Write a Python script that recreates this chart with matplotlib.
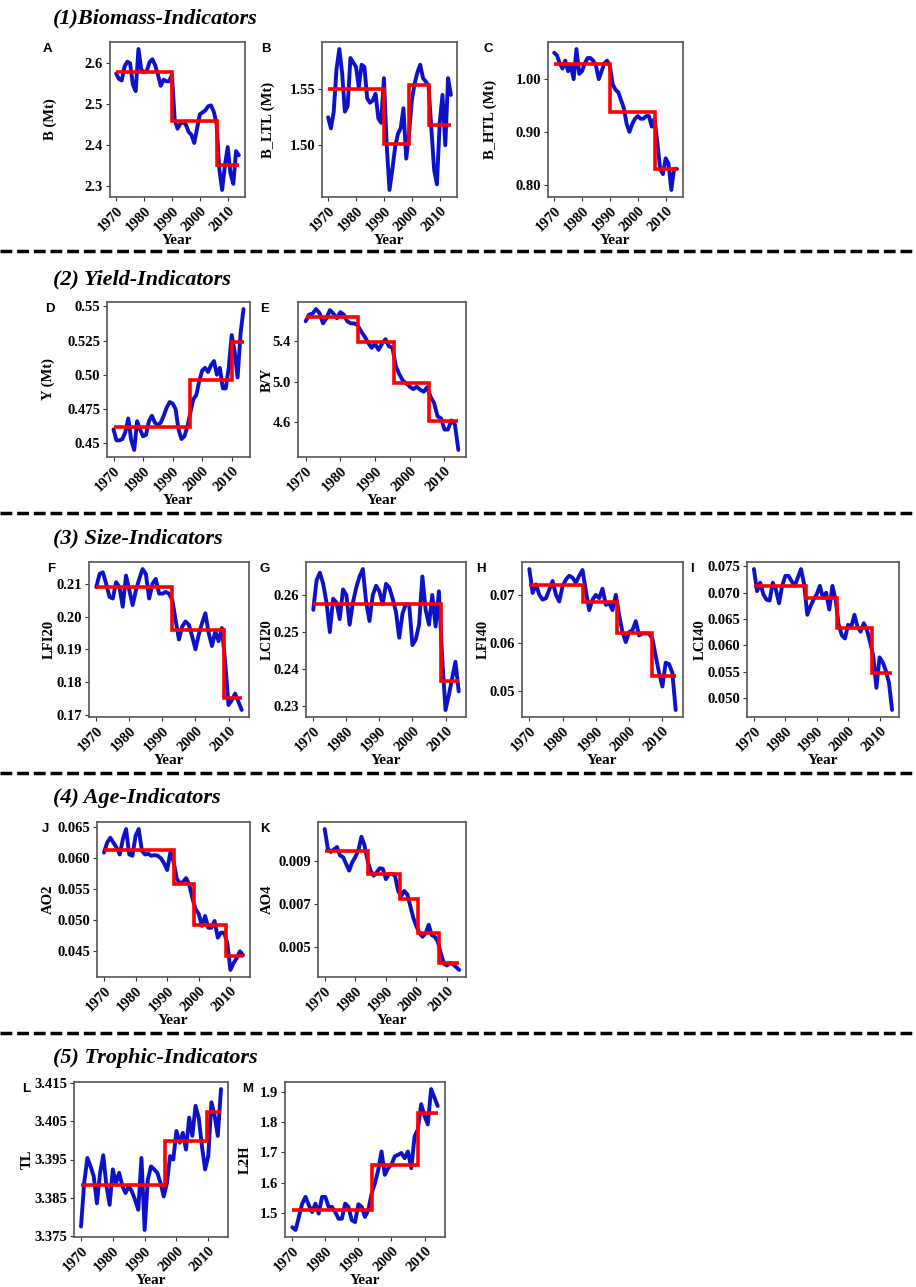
#!/usr/bin/env python3

import matplotlib
matplotlib.use("Agg")
from matplotlib import pyplot as plt
from matplotlib.lines import Line2D

# * Configuration

FIG_W, FIG_H = 916, 1287  # [px]
DPI = 100

BLUE = "#0d12c8"
RED = "#ff0000"
FRAME = "#555555"

plt.rcParams["font.family"] = ["Liberation Serif", "DejaVu Serif"]
plt.rcParams["font.weight"] = "bold"
plt.rcParams["axes.labelweight"] = "bold"

# * Data (1970..2014)

YEARS = list(range(1970, 2015))

B_TOTAL = [2.575, 2.562, 2.558, 2.592, 2.604, 2.600, 2.548, 2.532, 2.635, 2.585,
           2.578, 2.582, 2.603, 2.610, 2.595, 2.572, 2.545, 2.560, 2.556, 2.556,
           2.572, 2.462, 2.440, 2.452, 2.456, 2.450, 2.432, 2.425, 2.405, 2.440,
           2.475, 2.480, 2.485, 2.495, 2.497, 2.482, 2.452, 2.340, 2.290, 2.350,
           2.395, 2.330, 2.305, 2.385, 2.375]
B_TOTAL_BREAKS = [1970, 1990, 2006, 2014]
B_TOTAL_MEANS = [2.578, 2.460, 2.350]

B_LTL = [1.525, 1.515, 1.530, 1.568, 1.586, 1.565, 1.530, 1.535, 1.578, 1.574,
         1.570, 1.552, 1.572, 1.570, 1.542, 1.538, 1.540, 1.546, 1.524, 1.520,
         1.560, 1.500, 1.460, 1.478, 1.498, 1.510, 1.515, 1.533, 1.488, 1.510,
         1.540, 1.555, 1.565, 1.572, 1.560, 1.557, 1.553, 1.515, 1.478, 1.465,
         1.520, 1.545, 1.500, 1.560, 1.545]
B_LTL_BREAKS = [1970, 1990, 1999, 2006, 2014]
B_LTL_MEANS = [1.550, 1.501, 1.554, 1.518]

B_HTL = [1.050, 1.045, 1.030, 1.020, 1.035, 1.015, 1.025, 1.000, 1.057, 1.010,
         1.015, 1.030, 1.040, 1.040, 1.035, 1.025, 1.000, 1.015, 1.030, 1.035,
         1.025, 0.990, 0.980, 0.975, 0.960, 0.945, 0.915, 0.900, 0.915, 0.925,
         0.930, 0.925, 0.925, 0.930, 0.930, 0.910, 0.925, 0.880, 0.830, 0.820,
         0.850, 0.840, 0.790, 0.830, 0.830]
B_HTL_BREAKS = [1970, 1990, 2006, 2014]
B_HTL_MEANS = [1.028, 0.937, 0.830]

Y_TOTAL = [0.460, 0.452, 0.452, 0.453, 0.458, 0.468, 0.452, 0.445, 0.466, 0.460,
           0.455, 0.456, 0.466, 0.470, 0.465, 0.463, 0.465, 0.470, 0.476, 0.480,
           0.479, 0.475, 0.460, 0.453, 0.455, 0.462, 0.472, 0.482, 0.485, 0.495,
           0.503, 0.505, 0.502, 0.507, 0.510, 0.500, 0.505, 0.490, 0.490, 0.505,
           0.529, 0.517, 0.498, 0.530, 0.548]
Y_TOTAL_BREAKS = [1970, 1996, 2010, 2014]
Y_TOTAL_MEANS = [0.462, 0.496, 0.524]

B_Y = [5.59, 5.655, 5.665, 5.71, 5.67, 5.57, 5.62, 5.70, 5.665, 5.62,
       5.68, 5.655, 5.59, 5.57, 5.57, 5.55, 5.49, 5.44, 5.38, 5.33,
       5.37, 5.31, 5.37, 5.415, 5.345, 5.33, 5.15, 5.07, 5.01, 4.98,
       4.95, 4.925, 4.95, 4.92, 4.90, 4.945, 4.85, 4.79, 4.66, 4.64,
       4.53, 4.53, 4.62, 4.58, 4.33]
B_Y_BREAKS = [1970, 1985, 1995.5, 2005.5, 2014]
B_Y_MEANS = [5.63, 5.385, 4.985, 4.61]

LFI20 = [0.209, 0.213, 0.2135, 0.210, 0.206, 0.2055, 0.2105, 0.209, 0.203, 0.2125,
         0.208, 0.2035, 0.208, 0.2115, 0.2145, 0.213, 0.2055, 0.210, 0.2115, 0.207,
         0.207, 0.2075, 0.207, 0.205, 0.199, 0.193, 0.197, 0.1985, 0.1975, 0.194,
         0.190, 0.1945, 0.198, 0.201, 0.195, 0.191, 0.1955, 0.1925, 0.1965, 0.186,
         0.173, 0.1745, 0.1765, 0.174, 0.1715]
LFI20_BREAKS = [1970, 1993, 2008.5, 2014]
LFI20_MEANS = [0.209, 0.196, 0.175]

LCI20 = [0.256, 0.264, 0.266, 0.263, 0.258, 0.250, 0.259, 0.258, 0.2535, 0.2615,
         0.260, 0.252, 0.258, 0.262, 0.265, 0.267, 0.258, 0.253, 0.260, 0.2625,
         0.261, 0.2575, 0.263, 0.262, 0.259, 0.2555, 0.2485, 0.255, 0.2575, 0.2575,
         0.2465, 0.248, 0.252, 0.265, 0.256, 0.252, 0.260, 0.2515, 0.261, 0.243,
         0.229, 0.233, 0.2375, 0.242, 0.234]
LCI20_BREAKS = [1970, 2008.5, 2014]
LCI20_MEANS = [0.2577, 0.2367]

LFI40 = [0.0755, 0.0705, 0.0723, 0.0701, 0.0691, 0.0694, 0.0712, 0.0730, 0.0701, 0.0687,
         0.0719, 0.0733, 0.0741, 0.0737, 0.0726, 0.0741, 0.0753, 0.0709, 0.0669, 0.0691,
         0.0701, 0.0694, 0.0714, 0.0680, 0.0684, 0.0669, 0.0701, 0.0659, 0.0623, 0.0602,
         0.0623, 0.0627, 0.0646, 0.0616, 0.0620, 0.0620, 0.0620, 0.0609, 0.0573, 0.0538,
         0.0509, 0.0559, 0.0556, 0.0538, 0.0460]
LFI40_BREAKS = [1970, 1986, 1996.5, 2007, 2014]
LFI40_MEANS = [0.0722, 0.0687, 0.0621, 0.0531]

LCI40 = [0.0745, 0.0703, 0.0719, 0.0697, 0.0687, 0.0685, 0.0719, 0.0706, 0.0680, 0.0713,
         0.0732, 0.0732, 0.0722, 0.0713, 0.0729, 0.0745, 0.0716, 0.0658, 0.0674, 0.0687,
         0.0697, 0.0713, 0.0690, 0.0700, 0.0668, 0.0713, 0.0687, 0.0639, 0.0619, 0.0613,
         0.0639, 0.0635, 0.0658, 0.0635, 0.0626, 0.0642, 0.0629, 0.0606, 0.0580, 0.0519,
         0.0577, 0.0568, 0.0552, 0.0529, 0.0477]
LCI40_BREAKS = [1970, 1986.5, 1996.5, 2007.5, 2014]
LCI40_MEANS = [0.0713, 0.0689, 0.0632, 0.0548]

AO2 = [0.0608, 0.0624, 0.0632, 0.0624, 0.0616, 0.0605, 0.0630, 0.0646, 0.0605, 0.0603,
       0.0635, 0.0646, 0.0611, 0.0605, 0.0606, 0.0603, 0.0604, 0.0603, 0.0599, 0.0591,
       0.0580, 0.0608, 0.0594, 0.0567, 0.0558, 0.0561, 0.0567, 0.0556, 0.0534, 0.0517,
       0.0509, 0.0490, 0.0506, 0.0487, 0.0487, 0.0498, 0.0471, 0.0479, 0.0479, 0.0463,
       0.0419, 0.0430, 0.0438, 0.0449, 0.0443]
AO2_BREAKS = [1970, 1992, 1998.5, 2008.5, 2014]
AO2_MEANS = [0.0612, 0.0558, 0.0492, 0.0441]

AO4 = [0.01050, 0.00959, 0.00943, 0.00955, 0.00966, 0.00927, 0.00919, 0.00887, 0.00856, 0.00895,
       0.00919, 0.00950, 0.01014, 0.00974, 0.00903, 0.00856, 0.00832, 0.00848, 0.00867, 0.00864,
       0.00816, 0.00840, 0.00840, 0.00832, 0.00761, 0.00737, 0.00761, 0.00745, 0.00690, 0.00634,
       0.00595, 0.00563, 0.00547, 0.00563, 0.00603, 0.00555, 0.00547, 0.00524, 0.00468, 0.00421,
       0.00413, 0.00424, 0.00418, 0.00405, 0.00392]
AO4_BREAKS = [1970, 1984, 1994.5, 2000.5, 2007.5, 2014]
AO4_MEANS = [0.00946, 0.00840, 0.00721, 0.00563, 0.00424]

TL = [3.3774, 3.3888, 3.3954, 3.3932, 3.3906, 3.3835, 3.3915, 3.3961, 3.3880, 3.3831,
      3.3924, 3.3888, 3.3915, 3.3880, 3.3862, 3.3880, 3.3866, 3.3844, 3.3818, 3.3954,
      3.3765, 3.3897, 3.3932, 3.3924, 3.3915, 3.3888, 3.3853, 3.3888, 3.3959, 3.3950,
      3.4025, 3.3994, 3.4020, 3.3976, 3.4060, 3.4012, 3.4091, 3.4060, 3.3985, 3.3924,
      3.3959, 3.4100, 3.4065, 3.4012, 3.4135]
TL_BREAKS = [1970, 1996.5, 2009.5, 2014]
TL_MEANS = [3.3883, 3.3998, 3.4076]

L2H = [1.453, 1.444, 1.487, 1.531, 1.553, 1.526, 1.503, 1.531, 1.498, 1.553,
       1.553, 1.520, 1.520, 1.503, 1.481, 1.481, 1.531, 1.520, 1.476, 1.470,
       1.529, 1.520, 1.487, 1.509, 1.564, 1.598, 1.642, 1.703, 1.626, 1.648,
       1.659, 1.687, 1.692, 1.698, 1.681, 1.703, 1.648, 1.753, 1.776, 1.859,
       1.820, 1.792, 1.909, 1.881, 1.853]
L2H_BREAKS = [1970, 1994, 2008, 2014]
L2H_MEANS = [1.509, 1.659, 1.829]

X_TICKS = [1970, 1980, 1990, 2000, 2010]

# * Layout: (letter, series, breaks, means, ylabel, ytick labels,
#            box [left, top, right, bottom] px, ylabel centre x px, letter x px)

PANELS = [
    ("A", B_TOTAL, B_TOTAL_BREAKS, B_TOTAL_MEANS, "B (Mt)", ["2.3", "2.4", "2.5", "2.6"],
     (110, 42, 245, 197), 50, 43),
    ("B", B_LTL, B_LTL_BREAKS, B_LTL_MEANS, "B_LTL (Mt)", ["1.50", "1.55"],
     (322, 42, 457, 197), 268, 261),
    ("C", B_HTL, B_HTL_BREAKS, B_HTL_MEANS, "B_HTL (Mt)", ["0.80", "0.90", "1.00"],
     (548, 42, 683, 197), 490, 483),
    ("D", Y_TOTAL, Y_TOTAL_BREAKS, Y_TOTAL_MEANS, "Y (Mt)", ["0.45", "0.475", "0.50", "0.525", "0.55"],
     (107, 302, 250, 457), 48, 45),
    ("E", B_Y, B_Y_BREAKS, B_Y_MEANS, "B/Y", ["4.6", "5.0", "5.4"],
     (298, 302, 466, 457), 267, 260),
    ("F", LFI20, LFI20_BREAKS, LFI20_MEANS, "LFI20", ["0.17", "0.18", "0.19", "0.20", "0.21"],
     (89, 562, 249, 717), 49, 47),
    ("G", LCI20, LCI20_BREAKS, LCI20_MEANS, "LCI20", ["0.23", "0.24", "0.25", "0.26"],
     (306, 562, 466, 717), 267, 260),
    ("H", LFI40, LFI40_BREAKS, LFI40_MEANS, "LFI40", ["0.05", "0.06", "0.07"],
     (522, 562, 683, 717), 483, 476),
    ("I", LCI40, LCI40_BREAKS, LCI40_MEANS, "LCI40", ["0.050", "0.055", "0.060", "0.065", "0.070", "0.075"],
     (747, 562, 899, 717), 700, 690),
    ("J", AO2, AO2_BREAKS, AO2_MEANS, "AO2", ["0.045", "0.050", "0.055", "0.060", "0.065"],
     (97, 822, 250, 977), 48, 42),
    ("K", AO4, AO4_BREAKS, AO4_MEANS, "AO4", ["0.005", "0.007", "0.009"],
     (318, 822, 466, 977), 267, 260),
    ("L", TL, TL_BREAKS, TL_MEANS, "TL", ["3.375", "3.385", "3.395", "3.405", "3.415"],
     (74, 1082, 228, 1237), 27, 22),
    ("M", L2H, L2H_BREAKS, L2H_MEANS, "L2H", ["1.5", "1.6", "1.7", "1.8", "1.9"],
     (285, 1082, 445, 1237), 245, 242),
]

SECTIONS = [("(1)Biomass-Indicators", 18), ("(2) Yield-Indicators", 279),
            ("(3) Size-Indicators", 538), ("(4) Age-Indicators", 798),
            ("(5) Trophic-Indicators", 1058)]
SEPARATORS = [251, 513, 773, 1033]  # [px from top]


def px_axes(fig, box):
    left, top, right, bottom = box
    return fig.add_axes([left / FIG_W, 1 - bottom / FIG_H,
                         (right - left) / FIG_W, (bottom - top) / FIG_H])


def expand(lo, hi, frac=0.05):
    r = hi - lo
    return lo - frac * r, hi + frac * r


def plot_panel(fig, letter, series, breaks, means, ylabel, yticks, box, label_x, letter_x):
    ax = px_axes(fig, box)
    left, top, right, bottom = box
    w, h = right - left, bottom - top

    ax.plot(YEARS, series, color=BLUE, lw=2.8, solid_joinstyle="round",
            solid_capstyle="round", zorder=2)
    ax.stairs(means, breaks, baseline=None, color=RED, lw=2.6, zorder=3)

    lo = min(min(series), min(means))
    hi = max(max(series), max(means))
    ax.set_ylim(*expand(lo, hi))
    ax.set_xlim(*expand(1970, 2014))

    ax.set_yticks([float(t) for t in yticks], labels=yticks)
    ax.set_xticks(X_TICKS, labels=[str(t) for t in X_TICKS], rotation=45,
                  ha="right", va="top", rotation_mode="anchor")
    ax.tick_params(direction="out", length=3, width=0.8, color="#333333",
                   labelsize=10.5, labelcolor="black", pad=2)
    for spine in ax.spines.values():
        spine.set_color(FRAME)
        spine.set_linewidth(1.2)

    ax.set_ylabel(ylabel, fontsize=10.5, fontweight="bold", va="center")
    ax.yaxis.set_label_coords((label_x - left) / w, 0.5)
    ax.set_xlabel("Year", fontsize=11, fontweight="bold", va="center")
    ax.xaxis.set_label_coords(0.5, -44 / h)

    fig.text(letter_x / FIG_W, 1 - (top + 7) / FIG_H, letter, family="Liberation Sans",
             fontsize=9.5, fontweight="bold", ha="left", va="center")
    return ax


if __name__ == "__main__":
    fig = plt.figure(figsize=(FIG_W / DPI, FIG_H / DPI), dpi=DPI)

    for title, y in SECTIONS:
        fig.text(53 / FIG_W, 1 - y / FIG_H, title, fontsize=16, fontweight="bold",
                 fontstyle="italic", ha="left", va="center")

    for y in SEPARATORS:
        fig.add_artist(Line2D([0, 1], [1 - y / FIG_H] * 2, transform=fig.transFigure,
                              color="black", lw=2.5, dashes=(3.4, 1.4)))

    for p in PANELS:
        plot_panel(fig, *p)

    fig.savefig("out.png", dpi=DPI)
